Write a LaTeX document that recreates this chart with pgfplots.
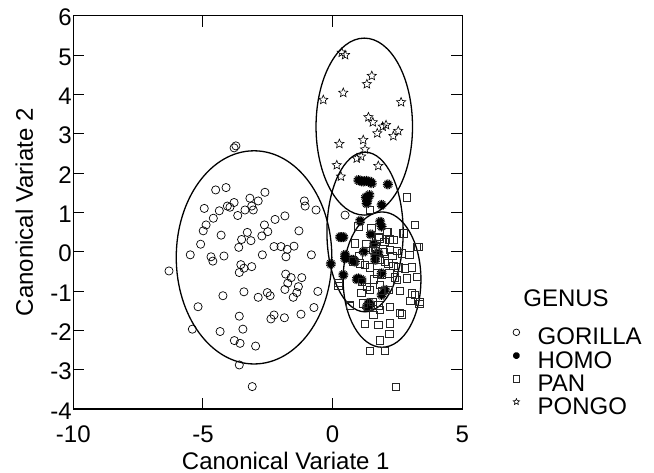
\documentclass[border=0pt]{standalone}
\usepackage{pgfplots}
\pgfplotsset{compat=1.18}
\usepackage{fontspec}
\setmainfont{Liberation Sans}

\pgfdeclareplotmark{burst}{%
  \pgfpathcircle{\pgfpointorigin}{0.5\pgfplotmarksize}\pgfusepathqfill
  \pgfpathmoveto{\pgfpointpolar{0}{\pgfplotmarksize}}\pgfpathlineto{\pgfpointpolar{180}{\pgfplotmarksize}}%
  \pgfpathmoveto{\pgfpointpolar{22.5}{\pgfplotmarksize}}\pgfpathlineto{\pgfpointpolar{202.5}{\pgfplotmarksize}}%
  \pgfpathmoveto{\pgfpointpolar{45}{\pgfplotmarksize}}\pgfpathlineto{\pgfpointpolar{225}{\pgfplotmarksize}}%
  \pgfpathmoveto{\pgfpointpolar{67.5}{\pgfplotmarksize}}\pgfpathlineto{\pgfpointpolar{247.5}{\pgfplotmarksize}}%
  \pgfpathmoveto{\pgfpointpolar{90}{\pgfplotmarksize}}\pgfpathlineto{\pgfpointpolar{270}{\pgfplotmarksize}}%
  \pgfpathmoveto{\pgfpointpolar{112.5}{\pgfplotmarksize}}\pgfpathlineto{\pgfpointpolar{292.5}{\pgfplotmarksize}}%
  \pgfpathmoveto{\pgfpointpolar{135}{\pgfplotmarksize}}\pgfpathlineto{\pgfpointpolar{315}{\pgfplotmarksize}}%
  \pgfpathmoveto{\pgfpointpolar{157.5}{\pgfplotmarksize}}\pgfpathlineto{\pgfpointpolar{337.5}{\pgfplotmarksize}}%
  \pgfusepathqstroke
}
\pgfdeclareplotmark{ostar}{%
  \pgfpathmoveto{\pgfpointpolar{90}{\pgfplotmarksize}}%
  \pgfpathlineto{\pgfpointpolar{126}{0.45\pgfplotmarksize}}%
  \pgfpathlineto{\pgfpointpolar{162}{\pgfplotmarksize}}%
  \pgfpathlineto{\pgfpointpolar{198}{0.45\pgfplotmarksize}}%
  \pgfpathlineto{\pgfpointpolar{234}{\pgfplotmarksize}}%
  \pgfpathlineto{\pgfpointpolar{270}{0.45\pgfplotmarksize}}%
  \pgfpathlineto{\pgfpointpolar{306}{\pgfplotmarksize}}%
  \pgfpathlineto{\pgfpointpolar{342}{0.45\pgfplotmarksize}}%
  \pgfpathlineto{\pgfpointpolar{18}{\pgfplotmarksize}}%
  \pgfpathlineto{\pgfpointpolar{54}{0.45\pgfplotmarksize}}%
  \pgfpathclose
  \pgfusepathqstroke
}

\pgfplotstableread{
x y
-3.73 2.69
-3.80 2.64
-4.51 1.57
-4.11 1.63
-2.61 1.51
-4.95 1.10
-4.37 1.04
-4.06 1.16
-3.96 1.13
-3.80 1.25
-3.19 1.36
-2.87 1.29
-3.12 1.16
-3.38 1.06
-3.06 1.06
-3.66 0.92
-4.60 0.85
-4.88 0.68
-4.99 0.53
-1.09 1.29
-1.06 1.16
-0.64 1.06
-1.84 0.91
-2.22 0.82
-2.63 0.68
-2.50 0.51
-2.73 0.40
-3.29 0.49
-3.51 0.31
-3.15 0.28
-3.62 0.11
-4.30 0.42
-5.09 0.19
-1.30 0.53
-2.26 0.13
-1.99 0.13
-1.75 0.06
-1.49 0.14
-1.80 -0.13
-2.71 -0.08
-5.49 -0.08
-4.69 -0.13
-4.62 -0.24
-4.19 -0.11
-0.82 -0.08
-3.54 -0.33
-3.42 -0.42
-3.60 -0.53
-3.12 -0.38
-6.31 -0.49
-1.81 -0.57
-1.60 -0.66
-1.19 -0.66
-1.73 -0.80
-1.32 -0.89
-1.38 -1.04
-1.52 -1.16
-1.84 -0.96
-3.42 -1.02
-4.23 -1.12
-2.52 -1.04
-2.41 -1.12
-2.87 -1.16
-0.57 -1.01
-5.19 -1.40
-0.72 -1.42
-3.60 -1.64
-2.26 -1.61
-2.38 -1.71
-1.86 -1.68
-1.22 -1.59
-5.41 -1.97
-4.34 -2.03
-3.46 -1.97
-3.79 -2.26
-3.57 -2.33
-2.97 -2.40
-3.60 -2.88
-3.10 -3.43
0.48 0.93
}\gorilla

\pgfplotstableread{
x y
0.99 1.82
1.10 1.80
1.18 1.78
1.30 1.80
1.44 1.78
1.51 1.74
2.13 1.71
1.42 1.44
1.34 1.31
1.31 1.23
1.89 1.19
1.06 0.78
1.83 0.76
1.89 0.64
1.47 0.44
0.29 0.37
0.41 0.37
0.35 0.37
0.48 -0.08
0.74 -0.21
0.86 -0.25
0.80 -0.21
0.48 -0.17
-0.07 -0.31
0.41 -0.59
0.93 -0.70
0.99 -0.68
1.12 -0.72
1.64 -0.08
1.76 -0.03
1.64 -0.21
1.89 -0.55
2.02 -0.97
1.89 -1.10
1.44 -1.36
1.32 -1.40
1.40 -1.30
1.28 1.38
1.60 0.20
1.20 0.00
}\homo

\pgfplotstableread{
x y
2.86 1.38
3.18 0.68
3.31 0.13
2.75 0.47
2.11 0.51
1.80 0.34
2.19 0.31
2.34 0.30
0.86 0.21
1.55 0.04
1.67 0.02
1.96 0.00
2.21 0.04
2.47 0.02
2.66 -0.04
2.96 -0.08
0.80 -0.25
1.06 -0.30
1.25 -0.34
1.44 -0.40
1.83 -0.21
2.02 -0.25
2.15 -0.30
2.34 -0.36
2.53 -0.40
2.79 -0.42
3.05 -0.40
3.24 -0.64
1.70 -0.55
1.89 -0.59
2.19 -0.55
2.47 -0.72
2.86 -0.68
0.22 -0.87
1.12 -0.76
1.32 -0.89
1.44 -0.97
1.83 -0.85
2.15 -0.97
3.05 -1.06
3.18 -1.10
3.34 -1.33
2.99 -1.25
0.67 -1.38
1.18 -1.31
1.38 -1.40
1.55 -1.27
1.76 -1.36
1.83 -1.48
1.57 -1.61
2.21 -1.40
2.66 -1.59
1.25 -1.84
1.76 -1.86
2.21 -1.82
2.19 -2.09
1.83 -2.25
1.44 -2.52
2.02 -2.52
2.44 -3.43
1.44 1.06
2.09 0.51
2.21 0.30
2.73 0.47
3.24 0.13
1.76 0.38
1.64 0.11
0.99 0.64
0.22 -0.80
0.67 -1.36
2.60 -1.55
3.37 -1.27
1.00 -0.10
1.30 0.20
1.60 -0.70
2.30 -0.10
2.60 -1.00
1.90 -1.00
1.50 0.60
2.40 -0.65
2.00 0.25
1.10 -1.05
}\pan

\pgfplotstableread{
x y
0.35 5.06
0.48 5.00
1.51 4.47
1.32 4.26
0.41 4.04
-0.36 3.86
2.64 3.80
1.38 3.42
1.55 3.29
2.06 3.22
1.93 3.18
1.72 3.01
2.53 3.07
2.34 2.94
0.26 2.74
1.18 2.84
1.25 2.60
0.93 2.37
1.10 2.42
0.16 2.20
1.76 2.18
0.32 1.91
}\pongo

\begin{document}
\begin{tikzpicture}
\useasboundingbox (-73.3bp,-64bp) rectangle (580.7bp,409bp);
\begin{axis}[
  width=389bp, height=393.3bp, scale only axis,
  xmin=-10, xmax=5, ymin=-4, ymax=6,
  xtick={-10,-5,0,5}, ytick={-4,-3,...,6},
  tick align=inside, major tick length=11bp,
  axis line style={line width=1.3bp},
  every tick/.style={black, line width=1bp},
  tick label style={font=\fontsize{24bp}{28bp}\selectfont},
  /pgf/number format/assume math mode=true,
  xticklabel style={yshift=-13bp},
  yticklabel style={xshift=2bp, yshift=-2bp},
  xlabel={Canonical Variate 1},
  ylabel={Canonical Variate 2},
  label style={font=\fontsize{24bp}{28bp}\selectfont},
  xlabel style={at={(axis description cs:0.5,0)}, anchor=base, yshift=-60bp, xshift=18bp},
  ylabel style={at={(axis description cs:0,0.5)}, anchor=base, yshift=40.3bp},
  legend style={at={(1.13,0.2085)}, anchor=north west, draw=none, fill=none,
    inner sep=0pt, font=\fontsize{24bp}{28bp}\selectfont,
    nodes={inner sep=1bp}, row sep=3bp, column sep=6bp,
    /tikz/every odd column/.append style={column sep=17bp}},
  legend cell align=left,
  legend image code/.code={\draw[#1, mark size=3.3bp] plot coordinates {(0bp,5bp)};},
]
\addplot[only marks, mark=o, mark size=4.1bp, mark options={line width=0.7bp, black}] table {\gorilla};
\addlegendentry{GORILLA}
\addplot[only marks, mark=burst, mark size=5bp, mark options={line width=0.9bp, black, fill=black}] table {\homo};
\addlegendentry{HOMO}
\addplot[only marks, mark=square, mark size=3.7bp, mark options={line width=0.7bp, black!85}] table {\pan};
\addlegendentry{PAN}
\addplot[only marks, mark=ostar, mark size=4.8bp, mark options={line width=0.6bp, black}] table {\pongo};
\addlegendentry{PONGO}
\draw[line width=1.3bp] (axis cs:-3.03,-0.145) ellipse [x radius=3.0, y radius=2.71];
\draw[line width=1.3bp] (axis cs:1.22,3.18) ellipse [x radius=1.86, y radius=2.25];
\draw[line width=1.3bp] (axis cs:1.25,0.50) ellipse [x radius=1.47, y radius=2.03];
\draw[line width=1.3bp] (axis cs:1.905,-0.71) ellipse [x radius=1.5, y radius=1.72];
\end{axis}
\node[font=\fontsize{24bp}{28bp}\selectfont, anchor=center] at (492.7bp,111bp) {GENUS};
\end{tikzpicture}
\end{document}
